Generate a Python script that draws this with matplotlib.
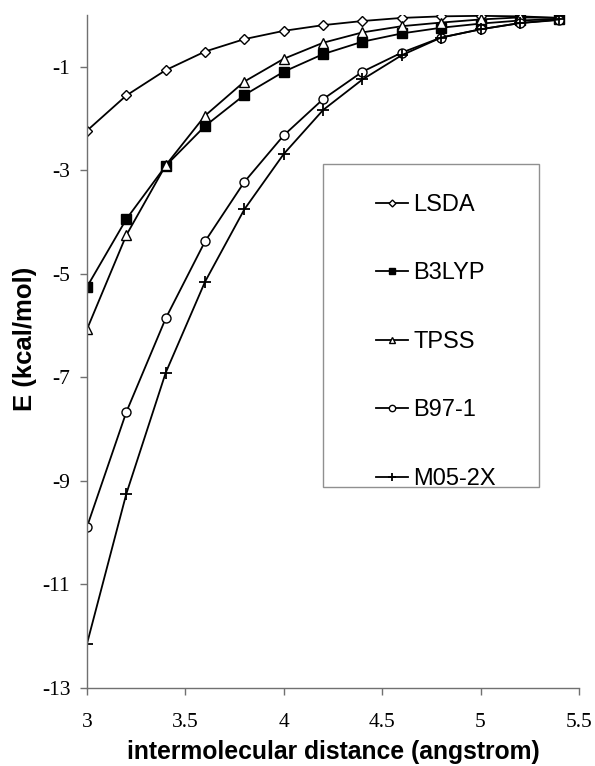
import matplotlib
matplotlib.use("Agg")
import matplotlib.pyplot as plt
from matplotlib.patches import Rectangle
from matplotlib.ticker import FuncFormatter

plt.rcParams['axes.unicode_minus'] = False

distance = [3.0, 3.2, 3.4, 3.6, 3.8, 4.0, 4.2, 4.4, 4.6, 4.8, 5.0, 5.2, 5.4]
lsda  = [-2.23, -1.55, -1.06, -0.70, -0.46, -0.30, -0.19, -0.11, -0.05, -0.02, -0.01, -0.02, -0.05]
b3lyp = [-5.25, -3.94, -2.91, -2.14, -1.54, -1.09, -0.75, -0.51, -0.35, -0.24, -0.16, -0.10, -0.07]
tpss  = [-6.07, -4.25, -2.90, -1.94, -1.28, -0.84, -0.53, -0.33, -0.21, -0.14, -0.08, -0.04, -0.05]
b971  = [-9.89, -7.67, -5.86, -4.37, -3.22, -2.32, -1.62, -1.09, -0.72, -0.43, -0.27, -0.15, -0.09]
m052x = [-12.15, -9.25, -6.91, -5.15, -3.75, -2.68, -1.83, -1.24, -0.77, -0.43, -0.27, -0.15, -0.08]

series = [
    ("LSDA", lsda, dict(marker='D', markersize=5, markerfacecolor='white')),
    ("B3LYP", b3lyp, dict(marker='s', markersize=6.5, markerfacecolor='black')),
    ("TPSS", tpss, dict(marker='^', markersize=7, markerfacecolor='white')),
    ("B97-1", b971, dict(marker='o', markersize=6.5, markerfacecolor='white')),
    ("M05-2X", m052x, dict(marker='+', markersize=8, markeredgewidth=1.3)),
]

fig = plt.figure(figsize=(5.95, 7.66), dpi=100)
ax = fig.add_axes([0.1462, 0.1022, 0.8268, 0.8778])

handles = []
for name, vals, st in series:
    h, = ax.plot(distance, vals, color='black', linewidth=1.3,
                 markeredgecolor='black', label=name, **st)
    handles.append(h)

ax.set_xlim(3, 5.5)
ax.set_ylim(-13, 0)
ax.set_xticks([3, 3.5, 4, 4.5, 5, 5.5])
ax.set_yticks([-13, -11, -9, -7, -5, -3, -1])
ax.xaxis.set_major_formatter(FuncFormatter(lambda v, p: f"{v:g}"))
ax.yaxis.set_major_formatter(FuncFormatter(lambda v, p: f"{v:g}"))

for s in ['top', 'right']:
    ax.spines[s].set_visible(False)
for s in ['left', 'bottom']:
    ax.spines[s].set_color('#707070')
    ax.spines[s].set_linewidth(1.0)

ax.tick_params(axis='both', direction='out', length=5, width=1.0, color='#707070',
               labelsize=15.5)
ax.tick_params(axis='x', pad=13)
ax.tick_params(axis='y', pad=7)
for lab in ax.get_xticklabels() + ax.get_yticklabels():
    lab.set_fontfamily('Liberation Serif')

ax.set_xlabel('intermolecular distance (angstrom)', fontsize=17.8, fontweight='bold',
              fontfamily='Liberation Sans', labelpad=6)
ax.set_ylabel('E (kcal/mol)', fontsize=18.5, fontweight='bold',
              fontfamily='Liberation Sans')
ax.yaxis.set_label_coords(-0.102, 0.519)

# legend box
W, H = 595, 766
box = Rectangle((323 / W, 1 - 487 / H), (539 - 323) / W, (487 - 164) / H,
                transform=fig.transFigure, facecolor='white', edgecolor='#909090',
                linewidth=1.0, zorder=5)
fig.patches.append(box)

leg = fig.legend(handles=handles, loc='upper left',
                 bbox_to_anchor=(364 / W, 1 - 182 / H),
                 frameon=False, prop={'family': 'Liberation Sans', 'size': 17},
                 handlelength=1.35, handletextpad=0.25, labelspacing=1.97,
                 markerscale=0.7, borderpad=0)
leg.set_zorder(6)

fig.savefig('out.png', dpi=100)
